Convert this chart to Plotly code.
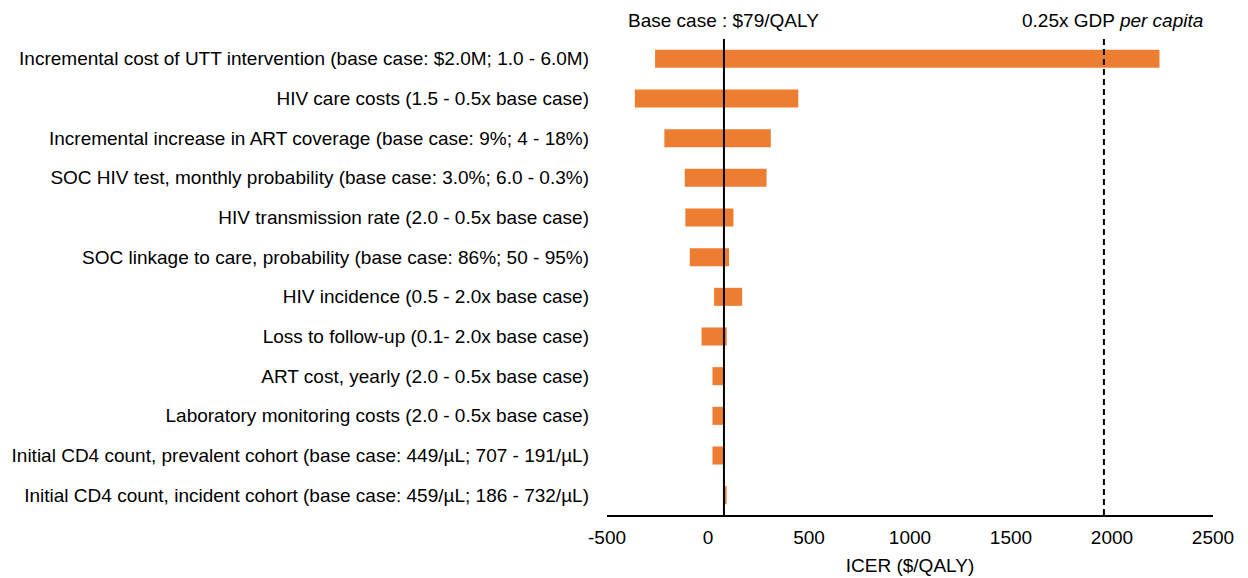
import plotly.graph_objects as go

parameters = [
    "Incremental cost of UTT intervention (base case: $2.0M; 1.0 - 6.0M)",
    "HIV care costs (1.5 - 0.5x base case)",
    "Incremental increase in ART coverage (base case: 9%; 4 - 18%)",
    "SOC HIV test, monthly probability (base case: 3.0%; 6.0 - 0.3%)",
    "HIV transmission rate (2.0 - 0.5x base case)",
    "SOC linkage to care, probability (base case: 86%; 50 - 95%)",
    "HIV incidence (0.5 - 2.0x base case)",
    "Loss to follow-up (0.1- 2.0x base case)",
    "ART cost, yearly (2.0 - 0.5x base case)",
    "Laboratory monitoring costs (2.0 - 0.5x base case)",
    "Initial CD4 count, prevalent cohort (base case: 449/µL; 707 - 191/µL)",
    "Initial CD4 count, incident cohort (base case: 459/µL; 186 - 732/µL)",
]
icer_low = [-262, -362, -216, -115, -112, -90, 30, -32, 22, 22, 22, 79]
icer_high = [2235, 447, 311, 290, 126, 104, 169, 93, 79, 79, 79, 92]
base_case_icer = 79
gdp_threshold = 1960
x_ticks = [-500, 0, 500, 1000, 1500, 2000, 2500]

FONT = "Liberation Sans, Arial, sans-serif"
ORANGE = "#ED7D31"

fig = go.Figure()
fig.add_trace(go.Bar(
    y=parameters,
    x=[h - l for l, h in zip(icer_low, icer_high)],
    base=icer_low,
    orientation="h",
    marker=dict(color=ORANGE, line=dict(width=0)),
    width=0.455,
    showlegend=False,
))

fig.add_shape(type="line", xref="x", yref="paper", x0=base_case_icer, x1=base_case_icer,
              y0=0, y1=1, line=dict(color="black", width=2))
fig.add_shape(type="line", xref="x", yref="paper", x0=gdp_threshold, x1=gdp_threshold,
              y0=0, y1=1, line=dict(color="black", width=2, dash="6px,4px"))

fig.add_annotation(x=base_case_icer, y=1, xref="x", yref="paper", yanchor="bottom",
                   yshift=6, showarrow=False, text="Base case : $79/QALY",
                   font=dict(family=FONT, size=19, color="black"))
fig.add_annotation(x=gdp_threshold, y=1, xref="x", yref="paper", yanchor="bottom",
                   xshift=9, yshift=6, showarrow=False,
                   text="0.25x GDP <i>per capita</i>",
                   font=dict(family=FONT, size=19, color="black"))

fig.update_layout(
    width=1248, height=578,
    margin=dict(l=607, r=35, t=39, b=63),
    paper_bgcolor="white", plot_bgcolor="white",
    font=dict(family=FONT, size=19, color="black"),
    bargap=0.5,
)
fig.update_xaxes(
    range=[-500, 2500], tickvals=x_ticks, ticktext=[str(v) for v in x_ticks],
    showgrid=False, zeroline=False, showline=True, linecolor="black", linewidth=1.5,
    ticks="outside", ticklen=4, tickcolor="rgba(0,0,0,0)",
    title=dict(text="ICER ($/QALY)", standoff=12, font=dict(size=19)),
    tickfont=dict(size=19), automargin=False,
)
fig.update_yaxes(
    categoryorder="array", categoryarray=parameters, autorange="reversed",
    showgrid=False, zeroline=False, showline=False, ticks="",
    ticklabelstandoff=17, tickfont=dict(size=19), automargin=False,
)

fig.write_html(
    "out.html",
    config={"displayModeBar": False},
    post_script="document.body.style.margin='0';document.body.style.overflow='hidden';",
)
